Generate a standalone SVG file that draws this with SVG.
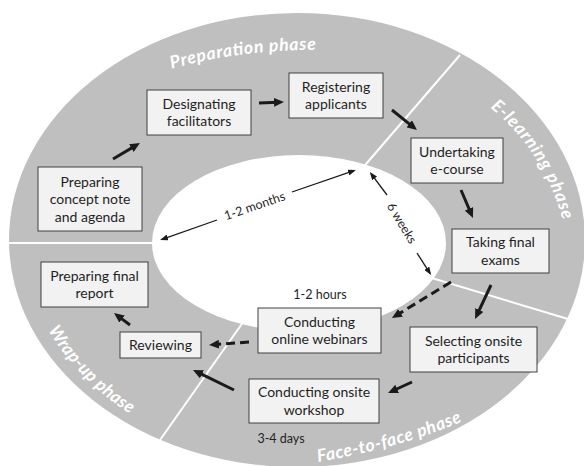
<svg xmlns="http://www.w3.org/2000/svg" width="584" height="466" viewBox="0 0 584 466">
  <style>
    .ring { fill: #bfbfbf; }
    .hole { fill: #ffffff; }
    .divider { stroke: #ffffff; stroke-width: 2; fill: none; }
    .phase { fill: #ffffff; font-family: Lato, "Liberation Sans", sans-serif; font-weight: bold; font-style: italic; font-size: 17.5px; }
    .box { fill: #f2f2f2; stroke: #404040; stroke-width: 1; }
    .label { fill: #1f1f1f; font-family: Lato, "Liberation Sans", sans-serif; font-size: 14px; text-anchor: middle; }
    .time { fill: #1f1f1f; font-family: Lato, "Liberation Sans", sans-serif; font-size: 12.5px; text-anchor: middle; }
    .flow { stroke: #1a1a1a; stroke-width: 3; fill: none; marker-end: url(#headBig); }
    .flow.dashed { stroke-dasharray: 9 5; }
    .span { stroke: #1a1a1a; stroke-width: 1.3; fill: none; }
  </style>
  <defs>
    <marker id="headBig" markerUnits="userSpaceOnUse" markerWidth="10" markerHeight="9" refX="4" refY="4.5" orient="auto">
      <path d="M0,0 L10,4.5 L0,9 z" fill="#1a1a1a"/>
    </marker>
    <marker id="headSmall" markerUnits="userSpaceOnUse" markerWidth="8" markerHeight="6" refX="6" refY="3" orient="auto-start-reverse">
      <path d="M0,0 L8,3 L0,6 z" fill="#1a1a1a"/>
    </marker>
    <path id="arcPrep" d="M160,72 Q240,48 330,50"/>
    <path id="arcElearn" d="M487,105 Q545,150 565,228"/>
    <path id="arcWrap" d="M45,325 Q80,385 140,420"/>
    <path id="arcF2F" d="M312,463 Q400,449 470,418"/>
  </defs>

  <!-- ring background -->
  <g id="ring">
    <ellipse class="ring" cx="297" cy="240" rx="288" ry="227"/>
    <line class="divider" x1="8" y1="243" x2="160" y2="243"/>
    <line class="divider" x1="360" y1="171" x2="460" y2="55"/>
    <line class="divider" x1="425" y1="276" x2="568" y2="319"/>
    <line class="divider" x1="246" y1="318" x2="160" y2="440"/>
    <ellipse class="hole" cx="299" cy="243" rx="147" ry="88"/>
  </g>

  <!-- phase names -->
  <g id="phases">
    <text class="phase"><textPath href="#arcPrep" startOffset="12" textLength="146" lengthAdjust="spacing">Preparation phase</textPath></text>
    <text class="phase"><textPath href="#arcElearn" startOffset="4" textLength="136" lengthAdjust="spacing">E-learning phase</textPath></text>
    <text class="phase"><textPath href="#arcWrap" startOffset="6" textLength="118" lengthAdjust="spacing">Wrap-up phase</textPath></text>
    <text class="phase"><textPath href="#arcF2F" startOffset="6" textLength="150" lengthAdjust="spacing">Face-to-face phase</textPath></text>
  </g>

  <!-- connectors -->
  <g id="connectors">
    <line class="flow" x1="113" y1="159" x2="134.8" y2="146.1"/>
    <line class="flow" x1="259" y1="103" x2="278" y2="102.2"/>
    <line class="flow" x1="392" y1="110" x2="412.3" y2="126.3"/>
    <line class="flow" x1="461" y1="190" x2="470.6" y2="212.5"/>
    <line class="flow" x1="491" y1="285" x2="477.6" y2="313.6"/>
    <line class="flow" x1="412" y1="382" x2="393.5" y2="390.5"/>
    <line class="flow" x1="234" y1="390" x2="198.4" y2="372.6"/>
    <line class="flow" x1="130" y1="325" x2="118.8" y2="316.6"/>
    <line class="flow dashed" x1="451" y1="282" x2="397.1" y2="314.9"/>
    <line class="flow dashed" x1="249" y1="342" x2="215" y2="344.5"/>

    <!-- duration spans -->
    <line class="span" x1="162" y1="239.3" x2="217" y2="220" marker-start="url(#headSmall)"/>
    <line class="span" x1="292" y1="192" x2="354" y2="170.7" marker-end="url(#headSmall)"/>
    <text class="time" transform="translate(256,210) rotate(-19)">1-2 months</text>
    <line class="span" x1="387" y1="195" x2="371" y2="173.6" marker-end="url(#headSmall)"/>
    <line class="span" x1="417" y1="253" x2="430" y2="273.3" marker-end="url(#headSmall)"/>
    <text class="time" transform="translate(402,223) rotate(59)" dominant-baseline="central">6 weeks</text>
    <text class="time" x="320" y="299">1-2 hours</text>
    <text class="time" x="281" y="443">3-4 days</text>
  </g>

  <!-- steps -->
  <g id="concept-note">
    <rect class="box" x="38" y="167" width="104" height="64"/>
    <text class="label" x="90" y="186.5">Preparing</text>
    <text class="label" x="90" y="204">concept note</text>
    <text class="label" x="90" y="221.5">and agenda</text>
  </g>
  <g id="designating">
    <rect class="box" x="147" y="90" width="104" height="45"/>
    <text class="label" x="199" y="108.5">Designating</text>
    <text class="label" x="199" y="126">facilitators</text>
  </g>
  <g id="registering">
    <rect class="box" x="289" y="73" width="94" height="45"/>
    <text class="label" x="336" y="91.5">Registering</text>
    <text class="label" x="336" y="109">applicants</text>
  </g>
  <g id="e-course">
    <rect class="box" x="411" y="138" width="92" height="45"/>
    <text class="label" x="457" y="156.5">Undertaking</text>
    <text class="label" x="457" y="174">e-course</text>
  </g>
  <g id="final-exams">
    <rect class="box" x="452" y="229" width="97" height="44"/>
    <text class="label" x="500.5" y="247">Taking final</text>
    <text class="label" x="500.5" y="264.5">exams</text>
  </g>
  <g id="selecting">
    <rect class="box" x="410" y="327" width="127" height="45"/>
    <text class="label" x="473.5" y="345.5">Selecting onsite</text>
    <text class="label" x="473.5" y="363">participants</text>
  </g>
  <g id="webinars">
    <rect class="box" x="258" y="308" width="123" height="45"/>
    <text class="label" x="319.5" y="326.5">Conducting</text>
    <text class="label" x="319.5" y="344">online webinars</text>
  </g>
  <g id="workshop">
    <rect class="box" x="249" y="379" width="130" height="44"/>
    <text class="label" x="314" y="397">Conducting onsite</text>
    <text class="label" x="314" y="414.5">workshop</text>
  </g>
  <g id="reviewing">
    <rect class="box" x="120" y="332" width="81" height="26"/>
    <text class="label" x="160.5" y="349.5">Reviewing</text>
  </g>
  <g id="final-report">
    <rect class="box" x="41" y="262" width="107" height="45"/>
    <text class="label" x="94.5" y="280.5">Preparing final</text>
    <text class="label" x="94.5" y="298">report</text>
  </g>
</svg>
